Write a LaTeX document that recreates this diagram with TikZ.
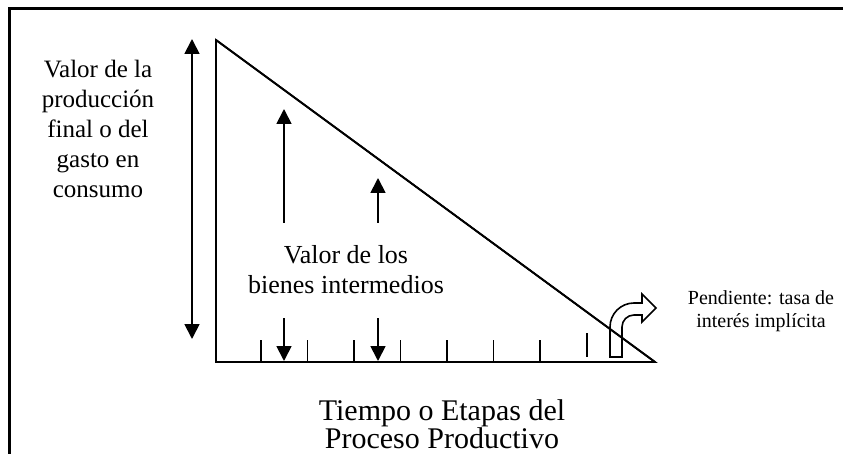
\documentclass[tikz,border=0pt]{standalone}
\usepackage{fontspec}
\setmainfont{Liberation Serif}
\usetikzlibrary{arrows.meta}
\begin{document}
\begin{tikzpicture}[x=1pt, y=-1pt, line width=1.8pt, >={Triangle[width=15pt,length=15pt]}]
    \useasboundingbox (0,0) rectangle (843,454);

    % marco
    \coordinate (f0) at (9.5,454);
    \coordinate (f1) at (9.5,9);
    \coordinate (f2) at (843,9);
    \draw[line width=3pt] (f0) -- (f1) -- (f2);

    % triangulo
    \coordinate (a) at (216,40);
    \coordinate (b) at (216,362);
    \coordinate (c) at (655,362);
    \draw (a) -- (b) -- (c) -- cycle;

    % marcas del tiempo
    \foreach \k in {0,...,6}
      \draw (261+46.5*\k,340) -- (261+46.5*\k,362);
    \draw (587,333) -- (587,357);

    % flechas
    \coordinate (t0) at (192,339);
    \coordinate (t1) at (192,39);
    \coordinate (u0) at (284,223);
    \coordinate (u1) at (284,109);
    \coordinate (v0) at (378,223);
    \coordinate (v1) at (378,178);
    \coordinate (d0) at (284,318);
    \coordinate (d1) at (284,361);
    \coordinate (e0) at (378,318);
    \coordinate (e1) at (378,361);
    \draw[<->] (t0) -- (t1);
    \draw[->] (u0) -- (u1);
    \draw[->] (v0) -- (v1);
    \draw[->] (d0) -- (d1);
    \draw[->] (e0) -- (e1);

    % flecha curva (pendiente)
    \draw[line width=1.6pt, line join=miter] (610,357) -- (610,327)
      .. controls (610,313.75) and (620.75,303) .. (634,303)
      -- (642,303) -- (642,294) -- (656,308) -- (642,322) -- (642,315) -- (634,315)
      .. controls (627.37,315) and (622,320.37) .. (622,327)
      -- (622,357) -- cycle;
    \draw (a) -- (c); % la recta pasa por encima

    \node[anchor=north, align=center, font=\fontsize{25}{30}\selectfont] (total) at (98,56) {Valor de la\\producción\\final o del\\gasto en\\consumo};
    \node[anchor=north, align=center, font=\fontsize{26}{30}\selectfont] (inter) at (346,241) {Valor de los\\bienes intermedios};
    \node[anchor=north, align=center, font=\fontsize{20}{23}\selectfont] (pend) at (761,286) {Pendiente: tasa de\\interés implícita};
    \node[anchor=north, align=center, font=\fontsize{30}{28}\selectfont] (tiempo) at (442,395) {Tiempo o Etapas del\\Proceso Productivo};
\end{tikzpicture}
\end{document}
